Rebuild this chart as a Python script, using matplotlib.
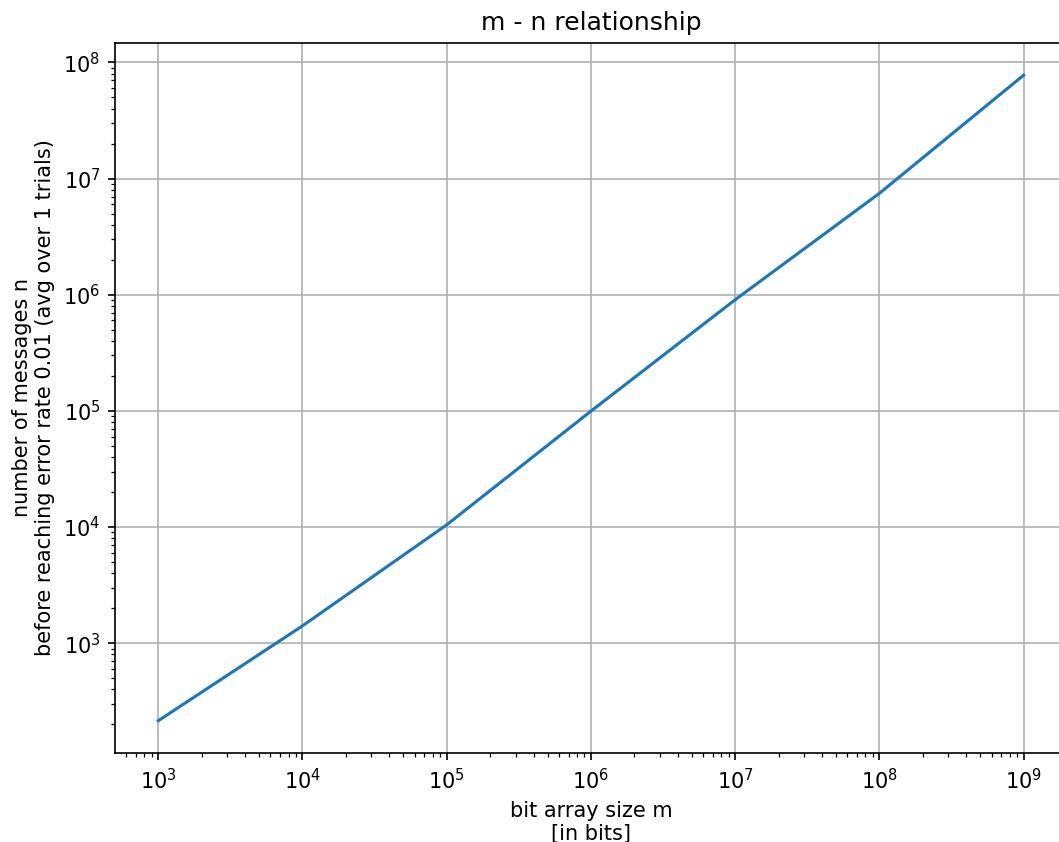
import matplotlib
matplotlib.use("Agg")
import matplotlib.pyplot as plt

# taille du tableau de bits m et nombre de messages n
m_values = [1e3, 1e4, 1e5, 1e6, 1e7, 1e8, 1e9]
n_values = [215, 1410, 10450, 99500, 905000, 7.46e6, 7.76e7]

fig = plt.figure(figsize=(1059 / 150, 842 / 150), dpi=150)
ax = fig.add_axes([0.1086, 0.1057, 0.8988, 0.8433])

ax.plot(m_values, n_values)
ax.set_xscale("log")
ax.set_yscale("log")
ax.grid(True)

ax.set_title("m - n relationship")
ax.set_xlabel("bit array size m\n[in bits]")
ax.set_ylabel("number of messages n\nbefore reaching error rate 0.01 (avg over 1 trials)")

fig.savefig("out.png", dpi=150)
